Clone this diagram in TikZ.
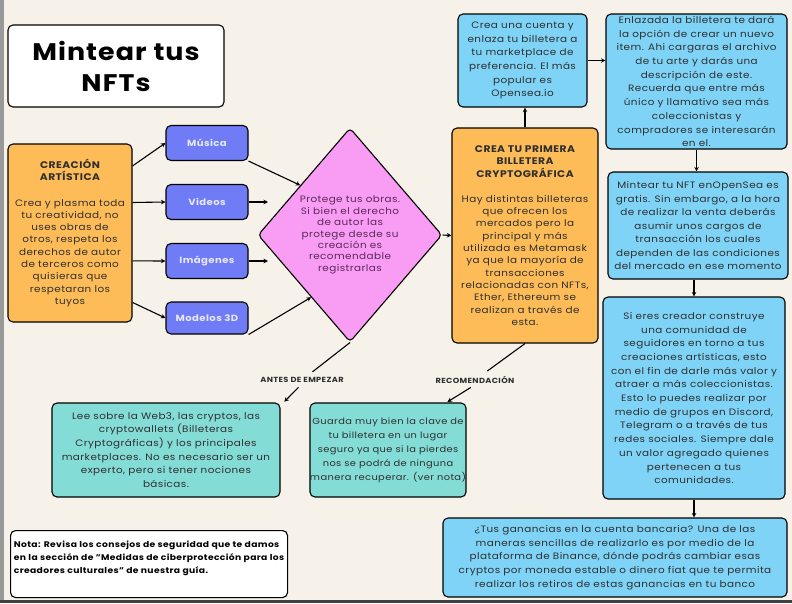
\documentclass[tikz,border=0pt]{standalone}
\usepackage{fontspec}
\setmainfont{Poppins}[FakeStretch=1.12,LetterSpace=4.5]
\usepackage{xcolor}
\usepackage{tikz}
\usetikzlibrary{calc,shapes.geometric,arrows.meta}
\definecolor{paper}{HTML}{F6F2EA}
\definecolor{orangebox}{HTML}{FEBC58}
\definecolor{violetbox}{HTML}{6F7CF5}
\definecolor{pilltext}{HTML}{E6E8FF}
\definecolor{pinkbox}{HTML}{F99CF4}
\definecolor{skybox}{HTML}{7ED3F6}
\definecolor{tealbox}{HTML}{84DCD7}
\definecolor{inktext}{HTML}{2F2F2F}
\definecolor{plumtext}{HTML}{5A2A5A}
\newcommand{\MainHeadFont}{\fontsize{24}{31}\selectfont\bfseries}
\newcommand{\BoxFont}{\fontsize{9.3}{13.7}\selectfont}
\newcommand{\TightFont}{\fontsize{9.3}{12.3}\selectfont}
\newcommand{\DiaFont}{\fontsize{9.3}{11.4}\selectfont}
\newcommand{\PillFont}{\fontsize{9}{11}\selectfont\bfseries}
\newcommand{\TagFont}{\fontsize{7.4}{9}\selectfont\bfseries}
\newcommand{\BoxHead}[1]{{\fontsize{9.6}{11.5}\selectfont\bfseries #1}}

\begin{document}
\begin{tikzpicture}[x=1pt,y=-1pt,
    >={Stealth[length=4.5pt,width=4.5pt]},
    card/.style={draw=black,line width=1.1pt,rounded corners=5pt,align=center,
      inner xsep=3pt,inner ysep=2pt,text=inktext,font=\BoxFont},
    pill/.style={card,fill=violetbox,text=pilltext,minimum width=82pt,minimum height=35pt,font=\PillFont},
    link/.style={line width=1.1pt,draw=black},
    tag/.style={font=\TagFont,text=inktext,inner sep=1pt}]
  \fill[paper] (0,0) rectangle (792,603);
  \fill[black!40] (0,0) rectangle (4,603);
  \fill[black!75] (0,600) rectangle (792,603);

  % title and first column
  \node[card,fill=white,text=black,font=\MainHeadFont,minimum width=216pt,minimum height=82pt]
    (title) at (116,66) {Mintear tus\\NFTs};
  \node[card,fill=orangebox,font=\TightFont,minimum width=124pt,minimum height=178pt]
    (creacion) at (70,233) {\BoxHead{CREACIÓN}\\\BoxHead{ARTÍSTICA}\\[13pt]
      Crea y plasma toda\\tu creatividad, no\\uses obras de\\otros, respeta los\\derechos de autor\\de terceros como\\quisieras que\\respetaran los\\tuyos};

  % kinds of work
  \node[pill] (musica) at (207,143) {Música};
  \node[pill] (videos) at (207,202) {Videos};
  \node[pill] (imagenes) at (207,261) {Imágenes};
  \node[pill,minimum height=32pt] (modelos) at (207,318) {Modelos 3D};

  \node[draw=black,line width=1.1pt,fill=pinkbox,diamond,aspect=0.86,inner sep=0pt,rounded corners=4pt,
    align=center,text=plumtext,font=\DiaFont,minimum width=184pt,minimum height=214pt]
    (dia) at (350,235) {Protege tus obras.\\Si bien el derecho\\de autor las\\protege desde su\\creación es\\recomendable\\registrarlas};
  \coordinate (vidend) at (268,202);
  \coordinate (imgend) at (268,261);

  % wallet column
  \node[card,fill=orangebox,font=\TightFont,minimum width=146pt,minimum height=215pt]
    (wallet) at (525,235.5) {\BoxHead{CREA TU PRIMERA}\\\BoxHead{BILLETERA}\\\BoxHead{CRYPTOGRÁFICA}\\[13pt]
      Hay distintas billeteras\\que ofrecen los\\mercados pero la\\principal y más\\utilizada es Metamask\\ya que la mayoría de\\transacciones\\relacionadas con NFTs,\\Ether, Ethereum se\\realizan a través de\\esta.};
  \node[card,fill=skybox,minimum width=129pt,minimum height=93pt]
    (market) at (522.5,60.5) {Crea una cuenta y\\enlaza tu billetera a\\tu marketplace de\\preferencia. El más\\popular es\\Opensea.io};

  % right column
  \node[card,fill=skybox,inner xsep=0pt,inner ysep=0pt,minimum width=181pt,minimum height=135pt]
    (item) at (696.5,81.5) {Enlazada la billetera te dará\\la opción de crear un nuevo\\item. Ahi cargaras el archivo\\de tu arte y darás una\\descripción de este.\\Recuerda que entre más\\único y llamativo sea más\\coleccionistas y\\compradores se interesarán\\en el.};
  \node[card,fill=skybox,inner xsep=0pt,font=\fontsize{9.3}{13.5}\selectfont,minimum width=180pt,minimum height=107pt]
    (mint) at (698,225.5) {Mintear tu NFT enOpenSea es\\gratis. Sin embargo, a la hora\\de realizar la venta deberás\\asumir unos cargos de\\transacción los cuales\\dependen de las condiciones\\del mercado en ese momento};
  \node[card,fill=skybox,inner xsep=0pt,minimum width=182pt,minimum height=202pt]
    (comunidad) at (694,398) {Si eres creador construye\\una comunidad de\\seguidores en torno a tus\\creaciones artísticas, esto\\con el fin de darle más valor y\\atraer a más coleccionistas.\\Esto lo puedes realizar por\\medio de grupos en Discord,\\Telegram o a través de tus\\redes sociales. Siempre dale\\un valor agregado quienes\\pertenecen a tus\\comunidades.};
  \node[card,fill=skybox,inner xsep=0pt,minimum width=344pt,minimum height=79pt]
    (banco) at (615,557.5) {¿Tus ganancias en la cuenta bancaria? Una de las\\maneras sencillas de realizarlo es por medio de la\\plataforma de Binance, dónde podrás cambiar esas\\cryptos por moneda estable o dinero fiat que te permita\\realizar los retiros de estas ganancias en tu banco};

  % advice row
  \node[tag] (antes) at (302,380) {ANTES DE EMPEZAR};
  \node[tag] (reco) at (475,380) {RECOMENDACIÓN};
  \node[card,fill=tealbox,minimum width=228pt,minimum height=94pt]
    (lee) at (166,450) {Lee sobre la Web3, las cryptos, las\\cryptowallets (Billeteras\\Cryptográficas) y los principales\\marketplaces. No es necesario ser un\\experto, pero si tener nociones\\básicas.};
  \node[card,fill=tealbox,inner xsep=0pt,font=\fontsize{8.8}{13.9}\selectfont,minimum width=150pt,minimum height=94pt]
    (guarda) at (388,450) {Guarda muy bien la clave de\\tu billetera en un lugar\\seguro ya que si la pierdes\\nos se podrá de ninguna\\manera recuperar. (ver nota)};
  \node[card,fill=white,align=left,anchor=north west,inner xsep=2pt,font=\fontsize{8.2}{13}\selectfont\bfseries,text=black,
    minimum width=277pt,minimum height=67pt] (nota) at (10,530)
    {Nota: Revisa los consejos de seguridad que te damos\\en la sección de "Medidas de ciberprotección para los\\creadores culturales" de nuestra guía.\\ \mbox{}};

  % connectors
  \draw[link,->] (creacion.47.6) -- (musica.west);
  \draw[link,->] (creacion.26.6) -- (videos.west);
  \draw[link,->] (creacion.-24.3) -- (imagenes.west);
  \draw[link,->] (creacion.-48.5) -- (modelos.west);
  \draw[link,->] (musica.south east) -- (dia.135);
  \draw[link,->] (videos.east) -- (vidend);
  \draw[link,->] (imagenes.east) -- (imgend);
  \draw[link,->] (modelos.south east) -- (dia.238);
  \draw[link,->] (dia.east) -- (wallet.west);
  \draw[link,->] (wallet.north) -- (wallet.north |- market.south);
  \draw[link,->] (market.east) -- (market.east -| item.west);
  \draw[link,->] (item.south) -- (item.south |- mint.north);
  \draw[link,->] (mint.south -| comunidad.north) -- (comunidad.north);
  \draw[link,->] (comunidad.south) -- (comunidad.south |- banco.north);
  \draw[link,shorten >=7pt] (dia.south) -- (antes);
  \draw[link,->,shorten <=5pt,shorten >=1pt] (antes.south) -- ($(lee.north east)+(3,0)$);
  \draw[link,shorten >=7pt] (wallet.south) -- (reco);
  \draw[link,->,shorten <=5pt,shorten >=1pt] (reco.south) -- ($(guarda.north east)+(-20,0)$);
\end{tikzpicture}
\end{document}
